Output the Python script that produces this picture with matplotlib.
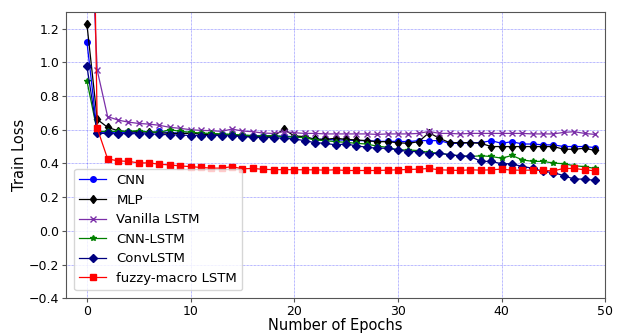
import numpy as np
import matplotlib
matplotlib.use("Agg")
import matplotlib.pyplot as plt

# Train loss per epoch
epochs = list(range(50))

cnn = [1.123, 0.585, 0.585, 0.580, 0.588, 0.582, 0.580, 0.590, 0.582, 0.580,
       0.578, 0.575, 0.575, 0.572, 0.572, 0.567, 0.565, 0.565, 0.562, 0.562,
       0.558, 0.555, 0.543, 0.543, 0.539, 0.539, 0.535, 0.535, 0.531, 0.531,
       0.531, 0.529, 0.535, 0.535, 0.535, 0.519, 0.519, 0.523, 0.523, 0.535,
       0.519, 0.529, 0.515, 0.515, 0.510, 0.510, 0.500, 0.500, 0.500, 0.494]

mlp = [1.228, 0.661, 0.614, 0.594, 0.588, 0.588, 0.588, 0.582, 0.578, 0.578,
       0.578, 0.575, 0.569, 0.569, 0.569, 0.563, 0.559, 0.559, 0.563, 0.602,
       0.563, 0.559, 0.543, 0.543, 0.549, 0.543, 0.539, 0.535, 0.529, 0.529,
       0.523, 0.519, 0.529, 0.582, 0.549, 0.523, 0.523, 0.523, 0.519, 0.500,
       0.500, 0.500, 0.500, 0.500, 0.500, 0.500, 0.484, 0.484, 0.490, 0.477]

vanilla_lstm = [2.3, 0.952, 0.678, 0.657, 0.645, 0.637, 0.633, 0.626, 0.614, 0.608,
                0.600, 0.596, 0.594, 0.590, 0.604, 0.592, 0.588, 0.580, 0.578, 0.588,
                0.582, 0.578, 0.578, 0.575, 0.575, 0.575, 0.575, 0.575, 0.572, 0.575,
                0.575, 0.575, 0.578, 0.590, 0.578, 0.578, 0.575, 0.578, 0.578, 0.578,
                0.578, 0.578, 0.578, 0.575, 0.575, 0.575, 0.584, 0.588, 0.578, 0.572]

cnn_lstm = [0.891, 0.590, 0.590, 0.590, 0.590, 0.595, 0.585, 0.585, 0.600, 0.590,
            0.585, 0.580, 0.578, 0.575, 0.572, 0.568, 0.565, 0.562, 0.565, 0.558,
            0.556, 0.553, 0.539, 0.535, 0.529, 0.525, 0.519, 0.515, 0.502, 0.496,
            0.480, 0.480, 0.476, 0.465, 0.461, 0.451, 0.445, 0.441, 0.445, 0.441,
            0.431, 0.447, 0.421, 0.412, 0.412, 0.402, 0.398, 0.386, 0.381, 0.370]

conv_lstm = [0.978, 0.578, 0.578, 0.575, 0.578, 0.575, 0.575, 0.573, 0.569, 0.569,
             0.565, 0.565, 0.565, 0.565, 0.563, 0.559, 0.555, 0.553, 0.553, 0.549,
             0.545, 0.535, 0.523, 0.519, 0.510, 0.515, 0.504, 0.496, 0.490, 0.490,
             0.480, 0.470, 0.470, 0.457, 0.461, 0.451, 0.445, 0.441, 0.412, 0.412,
             0.398, 0.398, 0.381, 0.372, 0.352, 0.346, 0.327, 0.307, 0.307, 0.299]

fuzzy_macro_lstm = [4.5, 0.608, 0.427, 0.415, 0.412, 0.403, 0.403, 0.395, 0.391, 0.385,
                    0.381, 0.376, 0.372, 0.372, 0.381, 0.368, 0.370, 0.365, 0.363, 0.363,
                    0.363, 0.362, 0.362, 0.360, 0.362, 0.358, 0.358, 0.358, 0.358, 0.360,
                    0.362, 0.364, 0.366, 0.370, 0.362, 0.360, 0.358, 0.362, 0.360, 0.362,
                    0.366, 0.360, 0.360, 0.360, 0.358, 0.356, 0.370, 0.370, 0.362, 0.356]

fig, ax = plt.subplots(figsize=(6.24, 3.34), dpi=100)
fig.subplots_adjust(left=0.106, right=0.97, top=0.965, bottom=0.107)

ms = 4
ax.plot(epochs, cnn, color="blue", marker="o", markersize=ms, linewidth=0.9, label="CNN")
ax.plot(epochs, mlp, color="black", marker="d", markersize=ms + 0.5, linewidth=0.9, label="MLP")
ax.plot(epochs, vanilla_lstm, color="#7b2fa8", marker="x", markersize=ms, linewidth=0.9,
        label="Vanilla LSTM")
ax.plot(epochs, cnn_lstm, color="green", marker="*", markersize=ms, linewidth=0.9, label="CNN-LSTM")
ax.plot(epochs, conv_lstm, color="navy", marker="D", markersize=ms, linewidth=0.9, label="ConvLSTM")
ax.plot(epochs, fuzzy_macro_lstm, color="red", marker="s", markersize=ms, linewidth=0.9,
        label="fuzzy-macro LSTM")

ax.set_xlim(-2, 50)
ax.set_ylim(-0.4, 1.3)
ax.set_xticks(np.arange(0, 51, 10))
ax.set_yticks(np.arange(-0.4, 1.21, 0.2))
ax.grid(True, color="blue", linestyle=(0, (1, 1)), linewidth=0.5, alpha=0.55)
ax.tick_params(labelsize=9, pad=2, length=3, color="#555555")
for s in ax.spines.values():
    s.set_color("#555555")

ax.set_xlabel("Number of Epochs", fontsize=10.5, labelpad=0)
ax.set_ylabel("Train Loss", fontsize=10.5, labelpad=1)
ax.legend(loc="lower left", fontsize=9.5, borderaxespad=0.6)

fig.savefig("out.png", dpi=100)
